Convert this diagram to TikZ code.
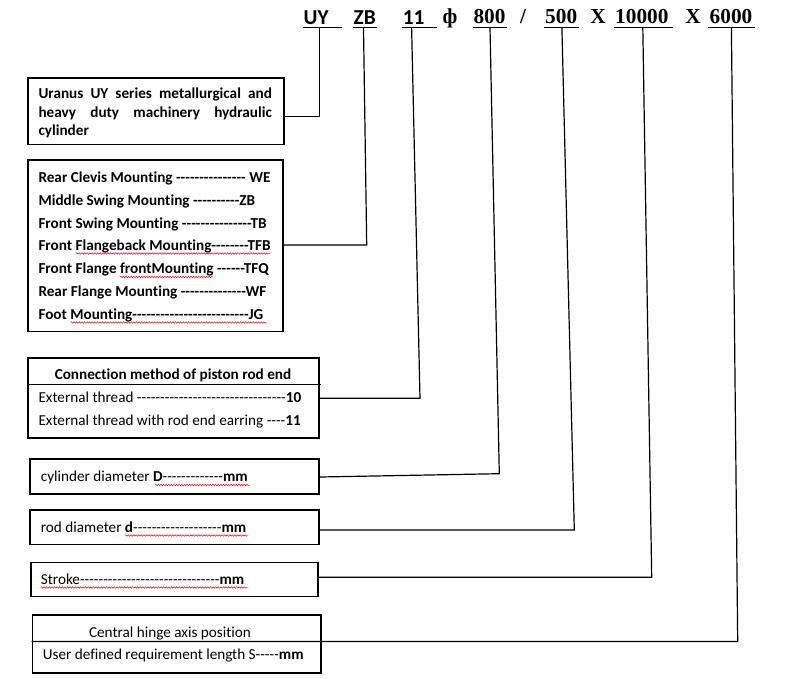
\documentclass[tikz,border=0pt]{standalone}
\usepackage{fontspec}
\setmainfont{Carlito}[Ligatures={TeXOff,CommonOff}]
\newfontfamily\hdrserif{Liberation Serif}[Ligatures={TeXOff,CommonOff}]
\usetikzlibrary{decorations.pathmorphing}
\tikzset{
 box/.style={draw, line width=1.2pt, inner sep=0pt, anchor=north west},
 txt/.style={anchor=base west, inner sep=0pt, font=\fontsize{15.2}{17}\selectfont},
 btxt/.style={anchor=base west, inner sep=0pt, font=\fontsize{15.2}{17}\selectfont\bfseries},
 ctxt/.style={anchor=base, inner sep=0pt, font=\fontsize{15.2}{17}\selectfont},
 cbtxt/.style={anchor=base, inner sep=0pt, font=\fontsize{15.2}{17}\selectfont\bfseries},
 conn/.style={line width=1.2pt},
 wavy/.style={draw=red, line width=0.5pt, decorate, decoration={snake, amplitude=0.7pt, segment length=2.6pt}},
 hdr/.style={anchor=base west, inner sep=0pt, font=\fontsize{21.3}{22}\selectfont\bfseries},
 hdrs/.style={anchor=base west, inner sep=0pt, font=\fontsize{21.3}{22}\selectfont\hdrserif\bfseries},
 hdrc/.style={anchor=base, inner sep=0pt, font=\fontsize{21.3}{22}\selectfont\hdrserif\bfseries},
 uline/.style={line width=1.4pt},
}
\begin{document}
\begin{tikzpicture}[x=1pt,y=-1pt]
\useasboundingbox (0,0) rectangle (792,678);
% header
\node[hdr] (hUY) at (303.5,24) {UY};
\node[hdr] (hZB) at (353.5,24) {ZB};
\node[hdr] (h11) at (402.7,24) {11};
\node[hdrc] (hphi) at (450,23.5) {ф};
\node[hdrs] (h800) at (473.3,23.5) {800};
\node[hdrc] (hsl) at (523,23.5) {/};
\node[hdrs] (h500) at (545,23.5) {500};
\node[hdrc] (hx1) at (598,23.5) {X};
\node[hdrs] (h10000) at (615,23.5) {10000};
\node[hdrc] (hx2) at (693,23.5) {X};
\node[hdrs] (h6000) at (709.5,23.5) {6000};
\draw[uline] (303,27.7) -- (342,27.7);
\draw[uline] (353,27.7) -- (377,27.7);
\draw[uline] (402,27.7) -- (437,27.7);
\draw[uline] (473,27.7) -- (507,27.7);
\draw[uline] (544,27.7) -- (579,27.7);
\draw[uline] (614,27.7) -- (673,27.7);
\draw[uline] (708,27.7) -- (755,27.7);

% boxes
\node[box, minimum width=256pt, minimum height=66.7pt] (b1) at (27.3,77.3) {};
\node[box, minimum width=255pt, minimum height=171.7pt] (b2) at (27.3,159.3) {};
\node[box, minimum width=291pt, minimum height=80pt] (b3) at (27.3,357.3) {};
\node[box, minimum width=289pt, minimum height=35pt] (b4) at (29.3,458.3) {};
\node[box, minimum width=289pt, minimum height=34.7pt] (b5) at (29.3,509.3) {};
\node[box, minimum width=287pt, minimum height=34.3pt] (b6) at (30.3,561.7) {};
\node[box, minimum width=288.6pt, minimum height=58pt] (b7) at (31.7,614.3) {};

% box 1 text
\node[btxt] (t11) at (38.3,98.7) {\makebox[233.4pt][s]{Uranus UY series metallurgical and}};
\node[btxt] (t12) at (38.3,117) {\makebox[233.4pt][s]{heavy duty machinery hydraulic}};
\node[btxt] (t13) at (38.3,135.4) {cylinder};

% box 2 text
\node[btxt] (t21) at (38.3,182.4) {Rear Clevis Mounting --------------- WE};
\node[btxt] (t22) at (38.3,205.4) {Middle Swing Mounting ----------ZB};
\node[btxt] (t23) at (38.3,228.7) {Front Swing Mounting ---------------TB};
\node[btxt] (t24) at (38.3,250) {Front Flangeback Mounting--------TFB};
\node[btxt] (t25) at (38.3,273.7) {Front Flange frontMounting ------TFQ};
\node[btxt] (t26) at (38.3,296.4) {Rear Flange Mounting --------------WF};
\node[btxt] (t27) at (38.3,319) {Foot Mounting-------------------------JG};
\draw[wavy] (76,253.5) -- (270,253.5);
\draw[wavy] (120,277) -- (213,277);
\draw[wavy] (70.7,322.5) -- (266.7,322.5);

% box 3 text
\node[cbtxt] (t30) at (173,379.5) {Connection method of piston rod end};
\draw[conn] (b3.west |- 0,384.3) -- (321,384.3);
\node[txt] (t31) at (38.3,402.4) {External thread --------------------------------\textbf{10}};
\node[txt] (t32) at (38.3,425.7) {External thread with rod end earring ----\textbf{11}};

% box 4-7 text
\node[txt] (t4) at (40.7,481.4) {cylinder diameter \textbf{D}-------------\textbf{mm}};
\draw[wavy] (155,485) -- (250,485);
\node[txt] (t5) at (40.7,532) {rod diameter \textbf{d}-------------------\textbf{mm}};
\draw[wavy] (125,535.5) -- (247.7,535.5);
\node[txt] (t6) at (40.7,584) {Stroke------------------------------\textbf{mm}};
\draw[wavy] (40.7,587.5) -- (247.7,587.5);
\node[ctxt] (t71) at (170,637) {Central hinge axis position};
\node[txt] (t72) at (42.7,659.7) {User defined requirement length S-----\textbf{mm}};

% connectors
\coordinate (tUY) at (319.5,27.7);   \coordinate (kUY) at (319.5,116.5);
\coordinate (tZB) at (363.5,27.7);   \coordinate (kZB) at (366.7,245);
\coordinate (t11c) at (411.6,27.7);  \coordinate (k11) at (420,398.3);
\coordinate (t800) at (490,27.7);    \coordinate (k800) at (499.3,473.7);
\coordinate (e800) at (320,477);
\coordinate (t500) at (561.9,27.7);  \coordinate (k500) at (574.3,530);
\coordinate (t10k) at (642.8,27.7);  \coordinate (k10k) at (651.7,577.3);
\coordinate (t6k) at (731.4,27.7);   \coordinate (k6k) at (737.7,641.5);
\draw[conn] (tUY) -- (kUY) -- (kUY -| b1.east);
\draw[conn] (tZB) -- (kZB) -- (kZB -| b2.east);
\draw[conn] (t11c) -- (k11) -- (k11 -| b3.east);
\draw[conn] (t800) -- (k800) -- (e800);
\draw[conn] (t500) -- (k500) -- (k500 -| b5.east);
\draw[conn] (t10k) -- (k10k) -- (k10k -| b6.east);
\draw[conn] (t6k) -- (k6k) -- (k6k -| b7.west);
\end{tikzpicture}
\end{document}
